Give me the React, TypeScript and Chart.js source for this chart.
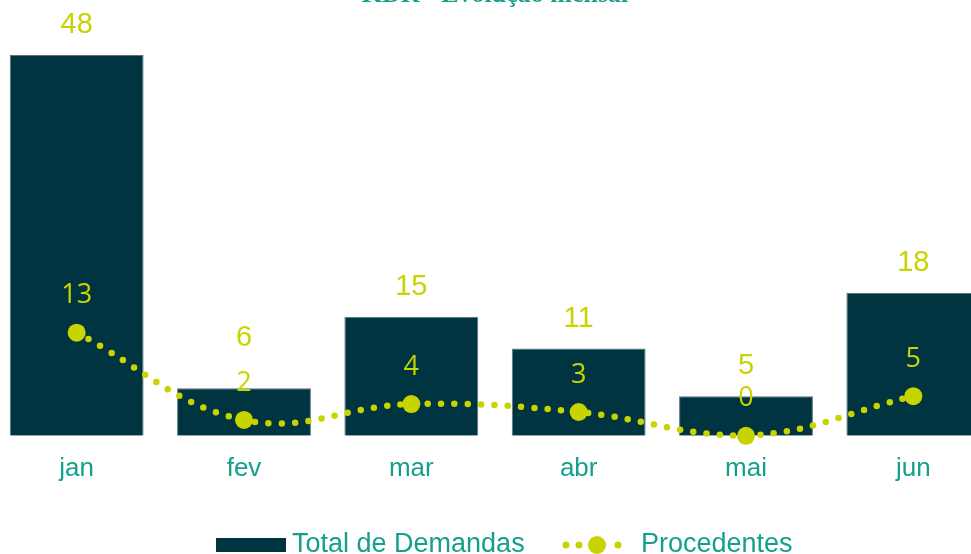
import React, { useEffect, useRef } from "react";
import { Chart, registerables } from "chart.js";

Chart.register(...registerables);

const categories = ["jan", "fev", "mar", "abr", "mai", "jun"];
const totalDemandas = [48, 6, 15, 11, 5, 18];
const procedentes = [13, 2, 4, 3, 0, 5];
const seriesNames = ["Total de Demandas", "Procedentes"];
const titleText = "KDR - Evolução mensal";

const BAR = "#003441";
const LIME = "#c8d400";
const TEAL = "#14a08c";
const SANS = "Arial, 'Liberation Sans', sans-serif";

const overlayPlugin = {
  id: "overlay",
  afterDatasetsDraw(chart: any) {
    const ctx = chart.ctx;
    const barMeta = chart.getDatasetMeta(0);
    const lineMeta = chart.getDatasetMeta(1);
    ctx.save();
    ctx.textAlign = "center";
    ctx.textBaseline = "middle";
    ctx.fillStyle = LIME;
    for (let i = 0; i < categories.length; i++) {
      const b = barMeta.data[i];
      const p = lineMeta.data[i];
      const lineY = p.y - 37;
      let barY = b.y - 30;
      if (Math.abs(barY - lineY) < 30) barY = lineY - 45;
      ctx.font = "29px " + SANS;
      ctx.fillText(String(totalDemandas[i]), b.x, barY);
      ctx.font = "27px 'Open Sans', sans-serif";
      ctx.fillText(String(procedentes[i]), p.x, lineY);
    }
    ctx.restore();
  },
  afterDraw(chart: any) {
    const ctx = chart.ctx;
    const off = 7; // canvas is shifted 7px left of the page
    ctx.save();
    ctx.fillStyle = TEAL;
    ctx.font = "bold 26px 'Liberation Serif', serif";
    ctx.textAlign = "center";
    ctx.textBaseline = "alphabetic";
    ctx.fillText(titleText, 495 + off, 2);
    const ly = 545;
    ctx.fillStyle = BAR;
    ctx.fillRect(216 + off, 538, 70, 14);
    ctx.font = "27px " + SANS;
    ctx.textAlign = "left";
    ctx.textBaseline = "middle";
    ctx.fillStyle = TEAL;
    ctx.fillText(seriesNames[0], 292 + off, ly);
    ctx.fillStyle = LIME;
    const dots = [566, 579, 618];
    for (const dx of dots) {
      ctx.beginPath();
      ctx.arc(dx + off, ly, 3.5, 0, Math.PI * 2);
      ctx.fill();
    }
    ctx.beginPath();
    ctx.arc(597 + off, ly, 9, 0, Math.PI * 2);
    ctx.fill();
    ctx.fillStyle = TEAL;
    ctx.fillText(seriesNames[1], 641 + off, ly);
    ctx.restore();
  },
};

export default function App() {
  const ref = useRef<HTMLCanvasElement>(null);
  useEffect(() => {
    if (!ref.current) return;
    const chart = new Chart(ref.current, {
      type: "bar",
      data: {
        labels: categories,
        datasets: [
          {
            type: "bar",
            label: seriesNames[0],
            data: totalDemandas,
            backgroundColor: BAR,
            borderColor: "#56767f",
            borderWidth: 1,
            barPercentage: 1,
            categoryPercentage: 0.8,
            order: 2,
          } as any,
          {
            type: "line",
            label: seriesNames[1],
            data: procedentes,
            borderColor: LIME,
            borderWidth: 6.5,
            borderDash: [0, 13.4],
            borderCapStyle: "round",
            tension: 0.4,
            pointRadius: 9,
            pointHoverRadius: 9,
            pointBackgroundColor: LIME,
            pointBorderColor: LIME,
            pointBorderWidth: 0,
            clip: false,
            order: 1,
          } as any,
        ],
      },
      plugins: [overlayPlugin],
      options: {
        responsive: false,
        animation: false,
        layout: { autoPadding: false, padding: { top: 55, bottom: 61, left: 0, right: 0 } },
        plugins: {
          legend: { display: false },
          title: { display: false },
          tooltip: { enabled: false },
        },
        scales: {
          x: {
            offset: true,
            grid: { display: false },
            border: { display: false },
            ticks: {
              color: TEAL,
              padding: 9,
              font: { size: 26, family: SANS },
            },
          },
          y: {
            display: false,
            min: 0,
            max: 48,
          },
        },
      },
    });
    return () => chart.destroy();
  }, []);
  return (
    <div style={{ position: "absolute", left: -7, top: 0, width: 1004, height: 554, background: "#fff" }}>
      <canvas ref={ref} width={1004} height={554} style={{ display: "block" }} />
    </div>
  );
}
